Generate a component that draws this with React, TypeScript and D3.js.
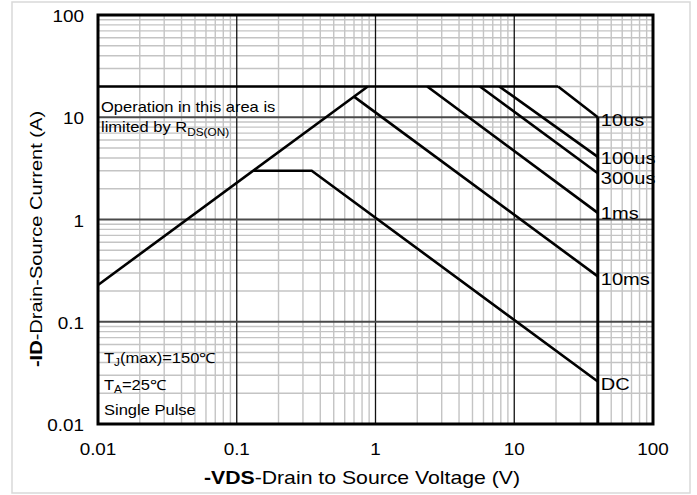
import React from 'react';
import * as d3 from 'd3';

// Safe operating area ([-VDS (V), -ID (A)])
const rdsOnLimit: [number, number][] = [[0.01, 0.229], [0.88, 20]];
const currentLimit: [number, number][] = [[0.01, 20], [20.7, 20]];
const pulse10us: [number, number][] = [[20.7, 20], [40, 10]];
const pulse100us: [number, number][] = [[7.8, 20], [40, 4.1]];
const pulse300us: [number, number][] = [[5.66, 20], [40, 2.83]];
const pulse1ms: [number, number][] = [[2.36, 20], [40, 1.16]];
const pulse10ms: [number, number][] = [[0.7, 15.9], [40, 0.278]];
const dcCurve: [number, number][] = [[0.132, 3], [0.347, 3], [40, 0.026]];
const vdsLimit: [number, number][] = [[40, 10], [40, 0.01]];

const curveLabels = ['10us', '100us', '300us', '1ms', '10ms', 'DC'];
const labelledCurves = [pulse10us, pulse100us, pulse300us, pulse1ms, pulse10ms, dcCurve];

const xTicks = [0.01, 0.1, 1, 10, 100];
const yTicks = [0.01, 0.1, 1, 10, 100];
const tickText = ['0.01', '0.1', '1', '10', '100'];

const W = 697;
const H = 495;
const margin = { top: 15, right: 44, bottom: 71, left: 98 };
const FONT = '"Liberation Sans", Arial, Helvetica, sans-serif';
const SX = 1.18; // the reference text is drawn a little wide

// small offsets so the labels sit like in the reference
const labelDy = [9, 7, 11, 6, 9, 8];

function minorValues(lo: number, hi: number) {
  const out: number[] = [];
  for (let e = Math.log10(lo); e < Math.log10(hi); e++) {
    for (let k = 2; k <= 9; k++) out.push(k * Math.pow(10, e));
  }
  return out;
}

function T(props: { x: number; y: number; size: number; anchor?: string; rotate?: number; children: React.ReactNode; weight?: string }) {
  const { x, y, size, anchor = 'start', rotate = 0, children, weight } = props;
  return (
    <text
      transform={`translate(${x},${y}) rotate(${rotate}) scale(${SX},1)`}
      fontSize={size}
      fontFamily={FONT}
      textAnchor={anchor}
      fontWeight={weight}
      fill="#000"
    >
      {children}
    </text>
  );
}

export default function App() {
  const x = d3.scaleLog().domain([0.01, 100]).range([margin.left, W - margin.right]);
  const y = d3.scaleLog().domain([0.01, 100]).range([H - margin.bottom, margin.top]);
  const line = d3.line<[number, number]>().x(d => x(d[0])).y(d => y(d[1]));

  const [x0, x1] = x.range();
  const [y0, y1] = y.range();

  return (
    <svg width={W} height={H} style={{ position: 'absolute', left: 0, top: 0, background: '#fff' }}>
      <rect x={12} y={2} width={678} height={491} fill="#fff" stroke="#d9d9d9" strokeWidth={1.5} />

      {/* minor grid */}
      <g stroke="#c4c4c4" strokeWidth={1.4}>
        {minorValues(0.01, 100).map(v => (
          <line key={'mx' + v} x1={x(v)} x2={x(v)} y1={y1} y2={y0} />
        ))}
        {minorValues(0.01, 100).map(v => (
          <line key={'my' + v} x1={x0} x2={x1} y1={y(v)} y2={y(v)} />
        ))}
      </g>

      {/* major grid */}
      <g>
        {xTicks.map(v => (
          <line key={'Mx' + v} x1={x(v)} x2={x(v)} y1={y1} y2={y0} stroke="#111" strokeWidth={1.3} />
        ))}
        {yTicks.map(v => (
          <line key={'My' + v} x1={x0} x2={x1} y1={y(v)} y2={y(v)} stroke="#4a4a4a" strokeWidth={2} />
        ))}
      </g>

      {/* SOA curves */}
      <g fill="none" stroke="#000" strokeWidth={2.6} strokeLinejoin="miter">
        {[rdsOnLimit, currentLimit, pulse10us, pulse100us, pulse300us, pulse1ms, pulse10ms, dcCurve].map((d, i) => (
          <path key={i} d={line(d) || ''} />
        ))}
        <path d={line(vdsLimit) || ''} strokeWidth={3} />
      </g>

      {/* frame */}
      <rect x={x0} y={y1} width={x1 - x0} height={y0 - y1} fill="none" stroke="#000" strokeWidth={3} />

      {/* curve labels */}
      {curveLabels.map((lab, i) => {
        const end = labelledCurves[i][labelledCurves[i].length - 1];
        return (
          <T key={lab} x={x(end[0]) + 3} y={y(end[1]) + labelDy[i]} size={17}>
            {lab}
          </T>
        );
      })}

      {/* ticks */}
      {xTicks.map((v, i) => (
        <T key={'xt' + v} x={x(v)} y={455} size={16} anchor="middle">
          {tickText[i]}
        </T>
      ))}
      {yTicks.map((v, i) => (
        <T key={'yt' + v} x={84} y={y(v) + 7} size={16} anchor="end">
          {tickText[i]}
        </T>
      ))}

      {/* notes */}
      <T x={101} y={112} size={14}>Operation in this area is</T>
      <T x={101} y={132} size={14}>
        limited by R<tspan fontSize={10} dy={4}>DS(ON)</tspan>
      </T>
      <T x={104} y={363} size={14}>
        T<tspan fontSize={10} dy={3}>J</tspan>
        <tspan dy={-3}>(max)=150℃</tspan>
      </T>
      <T x={104} y={390} size={14}>
        T<tspan fontSize={10} dy={3}>A</tspan>
        <tspan dy={-3}>=25℃</tspan>
      </T>
      <T x={104} y={415} size={14}>Single Pulse</T>

      {/* axis titles */}
      <T x={362} y={484} size={18} anchor="middle">
        <tspan fontWeight="bold">-VDS</tspan>-Drain to Source Voltage (V)
      </T>
      <T x={42} y={239} size={17} anchor="middle" rotate={-90}>
        <tspan fontWeight="bold">-ID</tspan>-Drain-Source Current (A)
      </T>
    </svg>
  );
}
